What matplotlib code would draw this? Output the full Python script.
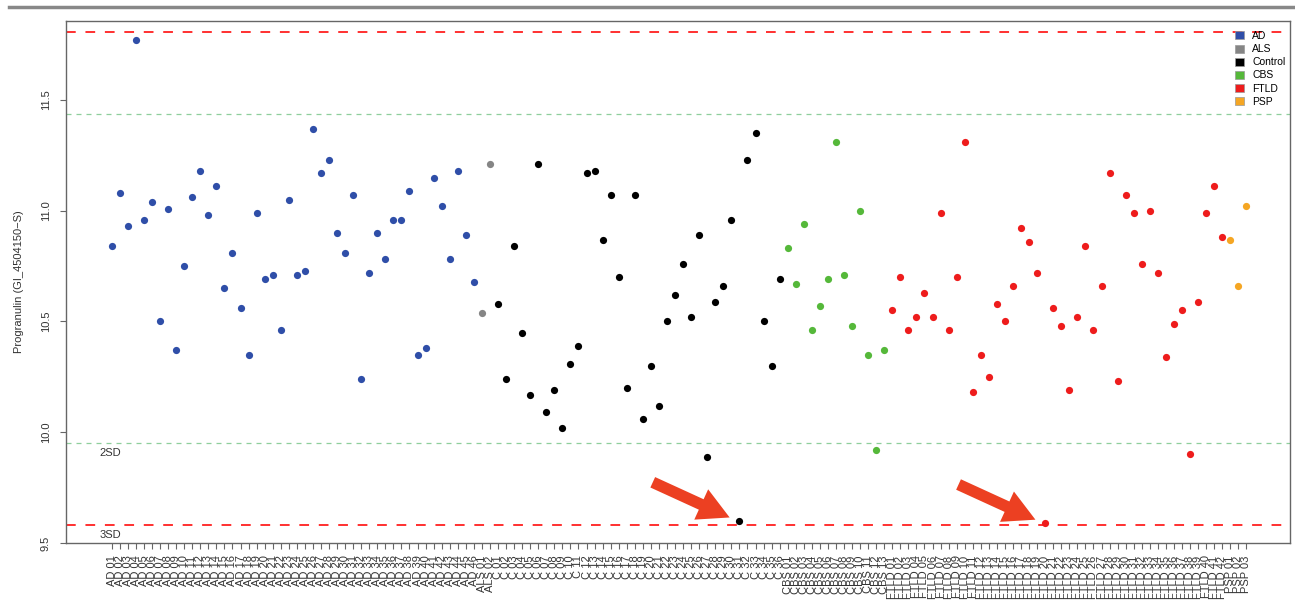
import numpy as np, matplotlib
matplotlib.use('Agg')
import matplotlib.pyplot as plt, matplotlib.patches as mpatches

plt.rcParams['font.family'] = ['Liberation Sans', 'DejaVu Sans']

# values, grouped by diagnosis
ad   = [10.84, 11.08, 10.93, 11.77, 10.96, 11.04, 10.50, 11.01, 10.37, 10.75,
        11.06, 11.18, 10.98, 11.11, 10.65, 10.81, 10.56, 10.35, 10.99, 10.69,
        10.71, 10.46, 11.05, 10.71, 10.73, 11.37, 11.17, 11.23, 10.90, 10.81,
        11.07, 10.24, 10.72, 10.90, 10.78, 10.96, 10.96, 11.09, 10.35, 10.38,
        11.15, 11.02, 10.78, 11.18, 10.89, 10.68]
als  = [10.54, 11.21]
ctrl = [10.58, 10.24, 10.84, 10.45, 10.17, 11.21, 10.09, 10.19, 10.02, 10.31,
        10.39, 11.17, 11.18, 10.87, 11.07, 10.70, 10.20, 11.07, 10.06, 10.30,
        10.12, 10.50, 10.62, 10.76, 10.52, 10.89, 9.89, 10.59, 10.66, 10.96,
        9.60, 11.23, 11.35, 10.50, 10.30, 10.69]
cbs  = [10.83, 10.67, 10.94, 10.46, 10.57, 10.69, 11.31, 10.71, 10.48, 11.00,
        10.35, 9.92, 10.37]
ftld = [10.55, 10.70, 10.46, 10.52, 10.63, 10.52, 10.99, 10.46, 10.70, 11.31,
        10.18, 10.35, 10.25, 10.58, 10.50, 10.66, 10.92, 10.86, 10.72, 9.59,
        10.56, 10.48, 10.19, 10.52, 10.84, 10.46, 10.66, 11.17, 10.23, 11.07,
        10.99, 10.76, 11.00, 10.72, 10.34, 10.49, 10.55, 9.90, 10.59, 10.99,
        11.11, 10.88]
psp  = [10.87, 10.66, 11.02]

groups   = ['AD', 'ALS', 'Control', 'CBS', 'FTLD', 'PSP']
prefixes = ['AD', 'ALS', 'C', 'CBS', 'FTLD', 'PSP']
series   = [ad, als, ctrl, cbs, ftld, psp]
colors   = ['#2f4ea8', '#858585', '#000000', '#55b83a', '#ee1c1c', '#f5a623']

mean_val, sd_val = 10.694, 0.3705
arrow_targets = [('Control', 31), ('FTLD', 20)]   # (group, sample number)

fig = plt.figure(figsize=(12.95, 6.04), dpi=100)
ax = fig.add_axes([0.051, 0.101, 0.945, 0.864])

labels, pos = [], 1
start = {}
for g, p, vals, col in zip(groups, prefixes, series, colors):
    xs = np.arange(pos, pos + len(vals))
    start[g] = pos
    ax.plot(xs, vals, 'o', color=col, ms=5.2, mec='none', zorder=3)
    labels += [f'{p} {i:02d}' for i in range(1, len(vals) + 1)]
    pos += len(vals)
n = pos - 1

for k, c, ls in [(2, '#8fcf9c', (0, (4, 4))), (3, '#ff3030', (0, (5, 5)))]:
    lw = 0.9 if k == 2 else 1.4
    ax.axhline(mean_val + k * sd_val, color=c, ls=ls, lw=lw, zorder=1)
    ax.axhline(mean_val - k * sd_val, color=c, ls=ls, lw=lw, zorder=1)
ax.text(-0.5, 9.905, '2SD', fontsize=8, va='center', color='#333')
ax.text(-0.5, 9.535, '3SD', fontsize=8, va='center', color='#333')

for g, k in arrow_targets:
    i = start[g] + k - 1
    v = series[groups.index(g)][k - 1]
    ax.annotate('', xy=(i - 0.9, v + 0.01), xytext=(-59, 27), textcoords='offset points',
                arrowprops=dict(arrowstyle='simple,head_width=1.6,head_length=1.5,tail_width=0.55',
                                color='#ec4022', mutation_scale=15, lw=0))

ax.set_xlim(-4.68, n + 5.4)
ax.set_ylim(9.5, 11.856)
ax.set_xticks(np.arange(1, n + 1))
ax.set_xticklabels(labels, rotation=90, fontsize=8, color='#333')
ax.set_yticks([9.5, 10.0, 10.5, 11.0, 11.5])
ax.set_yticklabels(['9.5', '10.0', '10.5', '11.0', '11.5'], rotation=90, va='center', fontsize=8, color='#333')
ax.tick_params(axis='both', length=4, color='#666', width=0.8)
ax.tick_params(axis='x', pad=5)
ax.tick_params(axis='y', pad=7)
ax.set_ylabel('Progranulin (GI_4504150\u2212S)', fontsize=8, color='#333', labelpad=12)
for s in ax.spines.values():
    s.set_color('#666'); s.set_linewidth(1)

patches = [mpatches.Patch(facecolor=c, edgecolor='#999', lw=0.5, label=g) for g, c in zip(groups, colors)]
ax.legend(handles=patches, loc='upper right', bbox_to_anchor=(0.998, 0.985), frameon=False,
          fontsize=7.5, labelspacing=0.3, handlelength=0.8, handleheight=0.8,
          handletextpad=0.8, borderaxespad=0, borderpad=0.2)

fig.add_artist(plt.Line2D([0.007, 1.0], [0.9876, 0.9876], transform=fig.transFigure, color='#888', lw=2.5))

fig.savefig('out.png', dpi=100)
